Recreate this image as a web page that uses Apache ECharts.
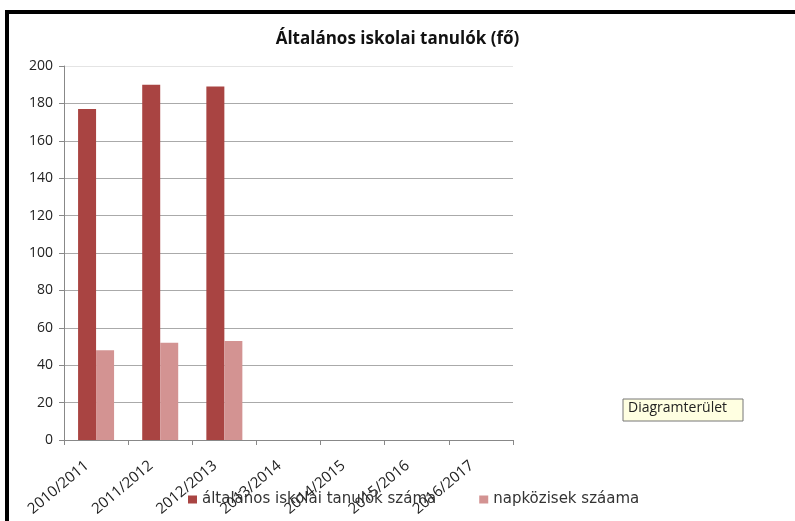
<!DOCTYPE html>
<html>
<head>
<meta charset="utf-8">
<script src="https://cdn.jsdelivr.net/npm/echarts@6/dist/echarts.min.js"></script>
<style>html,body{margin:0;padding:0;background:#fff;}#c{width:795px;height:521px;}</style>
</head>
<body>
<div id="c"></div>
<script>
const categories = ['2010/2011','2011/2012','2012/2013','2013/2014','2014/2015','2015/2016','2016/2017'];
const students = [177, 190, 189, null, null, null, null];
const dayCare = [48, 52, 53, null, null, null, null];
const yTicks = [0, 20, 40, 60, 80, 100, 120, 140, 160, 180, 200];
const seriesNames = ['általános iskolai tanulók száma', 'napközisek száama'];
const titleText = 'Általános iskolai tanulók (fő)';
const tooltipText = 'Diagramterület';

const gridColors = yTicks.map((v, i) => i === yTicks.length - 1 ? '#e4e4e4' : '#aaa');

const chart = echarts.init(document.getElementById('c'));
chart.setOption({
  animation: false,
  backgroundColor: '#fff',
  title: {
    text: titleText, left: 'center', top: 26,
    textStyle: { fontFamily: 'Open Sans', fontWeight: 'bold', fontSize: 17, color: '#111' }
  },
  legend: {
    bottom: 9, left: 183, itemWidth: 9, itemHeight: 8, itemGap: 43,
    textStyle: { fontFamily: 'DejaVu Sans', fontSize: 15, color: '#333' },
    data: [
      { name: seriesNames[0], icon: 'rect' },
      { name: seriesNames[1], icon: 'rect' }
    ]
  },
  grid: { left: 64, right: 282, top: 66, bottom: 81, containLabel: false },
  xAxis: {
    type: 'category', data: categories,
    axisLine: { lineStyle: { color: '#888' } },
    axisTick: { show: true, alignWithLabel: false, length: 5, lineStyle: { color: '#888' } },
    axisLabel: { interval: 0, rotate: 40, margin: 16, padding: [0, 12, 0, 0], fontFamily: 'Open Sans', fontSize: 15, color: '#222' },
    splitLine: { show: false }
  },
  yAxis: {
    type: 'value', min: yTicks[0], max: yTicks[yTicks.length - 1], interval: 20,
    axisLine: { show: true, lineStyle: { color: '#888' } },
    axisTick: { show: true, inside: false, length: 5, lineStyle: { color: '#888' } },
    axisLabel: { margin: 11, fontFamily: 'Open Sans', fontSize: 14, color: '#222' },
    splitLine: { lineStyle: { color: gridColors, width: 1 } }
  },
  series: [
    { name: seriesNames[0], type: 'bar', data: students, barWidth: 18, barGap: '0%', itemStyle: { color: '#A94442' } },
    { name: seriesNames[1], type: 'bar', data: dayCare, barWidth: 18, itemStyle: { color: '#D39392' } }
  ],
  graphic: [
    { type: 'rect', shape: { x: 5, y: 10, width: 790, height: 4 }, style: { fill: '#000' } },
    { type: 'rect', shape: { x: 5, y: 10, width: 4, height: 511 }, style: { fill: '#000' } },
    { type: 'rect', shape: { x: 623, y: 399, width: 120, height: 22 }, style: { fill: '#FFFFE1', stroke: '#777', lineWidth: 1 } },
    { type: 'text', left: 628, top: 401, style: { text: tooltipText, fontFamily: 'Open Sans', fontSize: 14, fill: '#222' } }
  ]
});
</script>
</body>
</html>
